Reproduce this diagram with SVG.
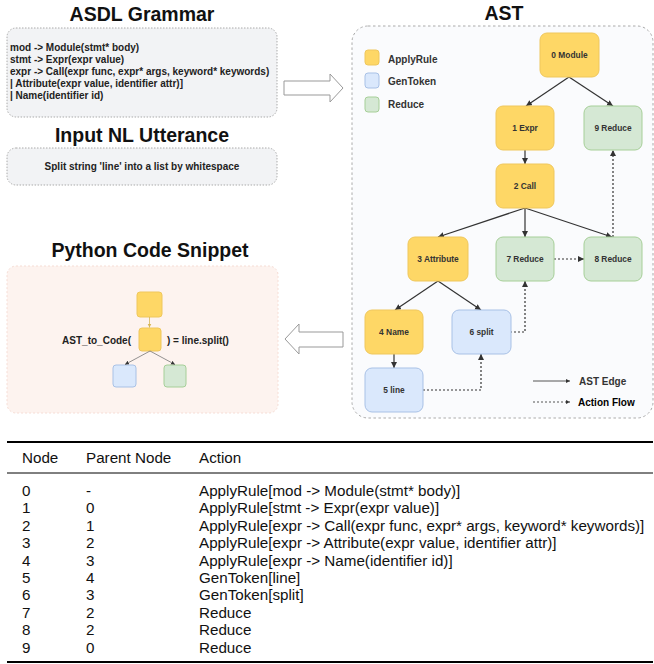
<svg xmlns="http://www.w3.org/2000/svg" width="654" height="664" viewBox="0 0 654 664">
<style>
.title{font-family:"Liberation Sans",Arial,sans-serif;font-weight:bold;font-size:19.5px;fill:#111;text-anchor:middle}
.b10{font-family:"Liberation Sans",Arial,sans-serif;font-weight:bold;font-size:10px;fill:#222}
.nl{font-family:"Liberation Sans",Arial,sans-serif;font-weight:bold;font-size:8.4px;fill:#333;text-anchor:middle}
.leg{font-family:"Liberation Sans",Arial,sans-serif;font-weight:bold;font-size:10px;fill:#333}
.tb{font-family:"Liberation Sans",Arial,sans-serif;font-size:15.2px;fill:#111}
.y{fill:#fed766;stroke:#efc75c;stroke-width:1}
.bl{fill:#dae8fc;stroke:#a8c1e6;stroke-width:1}
.g{fill:#d5e8d4;stroke:#a6cf98;stroke-width:1}
.e{fill:none;stroke:#333;stroke-width:1.2}
.d{fill:none;stroke:#333;stroke-width:1.2;stroke-dasharray:2,2}
.hollow{fill:#fff;stroke:#999;stroke-width:1;stroke-linejoin:round}
</style>
<defs>
<marker id="ah" markerWidth="8" markerHeight="8" refX="6" refY="3" orient="auto" markerUnits="userSpaceOnUse">
<path d="M0,0 L6,3 L0,6 Z" fill="#333"/>
</marker>
<marker id="ahs" markerWidth="6" markerHeight="6" refX="4" refY="2" orient="auto" markerUnits="userSpaceOnUse">
<path d="M0,0 L4,2 L0,4 Z" fill="#333"/>
</marker>
<marker id="ahy" markerWidth="6" markerHeight="6" refX="4" refY="2" orient="auto" markerUnits="userSpaceOnUse">
<path d="M0,0 L4,2 L0,4 Z" fill="#d6b656"/>
</marker>
</defs>
<rect width="654" height="664" fill="#fff"/>

<g id="grammar">
<text class="title" x="142" y="21">ASDL Grammar</text>
<rect x="7" y="28" width="270" height="89" rx="9" fill="#f2f3f5" stroke="#aaa" stroke-width="1" stroke-dasharray="1.5,1.5"/>
<text class="b10" x="10" y="51">mod -&gt; Module(stmt* body)</text>
<text class="b10" x="10" y="63">stmt -&gt; Expr(expr value)</text>
<text class="b10" x="10" y="75">expr -&gt; Call(expr func, expr* args, keyword* keywords)</text>
<text class="b10" x="10" y="87">| Attribute(expr value, identifier attr)]</text>
<text class="b10" x="10" y="99">| Name(identifier id)</text>
</g>

<g id="utterance">
<text class="title" x="142" y="142">Input NL Utterance</text>
<rect x="7" y="148" width="270" height="37" rx="9" fill="#f2f3f5" stroke="#aaa" stroke-width="1" stroke-dasharray="1.5,1.5"/>
<text class="b10" x="142" y="170" text-anchor="middle">Split string 'line' into a list by whitespace</text>
</g>

<g id="arrow-right">
<path class="hollow" d="M284,81 L330,81 L330,74 L343,88 L330,102 L330,95 L284,95 Z"/>
</g>

<g id="arrow-left">
<path class="hollow" d="M343,332 L299,332 L299,324 L285,339 L299,354 L299,347 L343,347 Z"/>
</g>

<g id="code">
<text class="title" x="150" y="257">Python Code Snippet</text>
<rect x="7" y="266" width="271" height="147" rx="9" fill="#fdf3ef" stroke="#f6ddd5" stroke-width="1" stroke-dasharray="2,2"/>
<rect class="y" x="137" y="292" width="25" height="25" rx="3"/>
<rect class="y" x="139" y="328" width="22" height="23" rx="3"/>
<rect class="bl" x="113" y="365" width="23" height="22" rx="3"/>
<rect class="g" x="164" y="365" width="22" height="22" rx="3"/>
<path d="M149.5,317 V327.5" fill="none" stroke="#d6b656" stroke-width="0.8" marker-end="url(#ahy)"/>
<path d="M150,351 L125,364.5" fill="none" stroke="#777" stroke-width="0.8" marker-end="url(#ahs)"/>
<path d="M150,351 L175,364.5" fill="none" stroke="#777" stroke-width="0.8" marker-end="url(#ahs)"/>
<text class="b10" x="131" y="343.5" text-anchor="end">AST_to_Code(</text>
<text class="b10" x="167" y="343.5">) = line.split()</text>
</g>

<g id="ast">
<text class="title" x="504" y="20">AST</text>
<rect x="352" y="26" width="301" height="392" rx="16" fill="#fafbfd" stroke="#aaa" stroke-width="1" stroke-dasharray="2.5,2.5"/>
</g>

<g id="legend">
<rect class="y" x="365" y="50" width="14" height="15" rx="3"/>
<rect class="bl" x="365" y="73" width="14" height="15" rx="3"/>
<rect class="g" x="365" y="97" width="14" height="15" rx="3"/>
<text class="leg" x="388" y="62.5">ApplyRule</text>
<text class="leg" x="388" y="85">GenToken</text>
<text class="leg" x="388" y="108">Reduce</text>
<path d="M533,381 H570" fill="none" stroke="#555" stroke-width="1" marker-end="url(#ahs)"/>
<path d="M533,402 H570" fill="none" stroke="#555" stroke-width="1" stroke-dasharray="2,2" marker-end="url(#ahs)"/>
<text class="leg" x="579" y="384.5">AST Edge</text>
<text class="leg" x="578" y="405.5" style="fill:#000">Action Flow</text>
</g>

<g id="connectors">
<path class="e" d="M569,77 L526,106" marker-end="url(#ah)"/>
<path class="e" d="M569,77 L613,106" marker-end="url(#ah)"/>
<path class="e" d="M525,150 V164" marker-end="url(#ah)"/>
<path class="e" d="M525,208 L438,237" marker-end="url(#ah)"/>
<path class="e" d="M525,208 V237" marker-end="url(#ah)"/>
<path class="e" d="M525,208 L612,237" marker-end="url(#ah)"/>
<path class="e" d="M438,281 L395,310" marker-end="url(#ah)"/>
<path class="e" d="M438,281 L481,310" marker-end="url(#ah)"/>
<path class="e" d="M394,354 V368" marker-end="url(#ah)"/>
<path class="d" d="M423,390 H481 V354" marker-end="url(#ah)"/>
<path class="d" d="M510,332 H525 V281" marker-end="url(#ah)"/>
<path class="d" d="M554,259 H584" marker-end="url(#ah)"/>
<path class="d" d="M613,237 V150" marker-end="url(#ah)"/>
</g>

<g id="n0"><rect class="y" x="540" y="33" width="59" height="44" rx="7"/><text class="nl" x="569.5" y="58">0 Module</text></g>
<g id="n1"><rect class="y" x="496" y="106" width="58" height="44" rx="7"/><text class="nl" x="525" y="131">1 Expr</text></g>
<g id="n9"><rect class="g" x="584" y="106" width="58" height="44" rx="7"/><text class="nl" x="613" y="131">9 Reduce</text></g>
<g id="n2"><rect class="y" x="496" y="164" width="58" height="44" rx="7"/><text class="nl" x="525" y="189">2 Call</text></g>
<g id="n3"><rect class="y" x="408" y="237" width="60" height="44" rx="7"/><text class="nl" x="438" y="262">3 Attribute</text></g>
<g id="n7"><rect class="g" x="496" y="237" width="58" height="44" rx="7"/><text class="nl" x="525" y="262">7 Reduce</text></g>
<g id="n8"><rect class="g" x="584" y="237" width="58" height="44" rx="7"/><text class="nl" x="613" y="262">8 Reduce</text></g>
<g id="n4"><rect class="y" x="365" y="310" width="58" height="44" rx="7"/><text class="nl" x="394" y="335">4 Name</text></g>
<g id="n6"><rect class="bl" x="452" y="310" width="59" height="44" rx="7"/><text class="nl" x="481.5" y="335">6 split</text></g>
<g id="n5"><rect class="bl" x="365" y="368" width="58" height="44" rx="7"/><text class="nl" x="394" y="393">5 line</text></g>

<g id="table">
<path d="M7,442 H653" stroke="#000" stroke-width="2"/>
<path d="M7,473 H653" stroke="#000" stroke-width="1"/>
<path d="M7,662 H653" stroke="#000" stroke-width="2"/>
<text class="tb" x="22" y="463">Node</text>
<text class="tb" x="86" y="463">Parent Node</text>
<text class="tb" x="199" y="463">Action</text>
<g class="tb">
<text x="22" y="496">0</text><text x="86" y="496">-</text><text x="199" y="496">ApplyRule[mod -&gt; Module(stmt* body)]</text>
<text x="22" y="513.4">1</text><text x="86" y="513.4">0</text><text x="199" y="513.4">ApplyRule[stmt -&gt; Expr(expr value)]</text>
<text x="22" y="530.8">2</text><text x="86" y="530.8">1</text><text x="199" y="530.8">ApplyRule[expr -&gt; Call(expr func, expr* args, keyword* keywords)]</text>
<text x="22" y="548.2">3</text><text x="86" y="548.2">2</text><text x="199" y="548.2">ApplyRule[expr -&gt; Attribute(expr value, identifier attr)]</text>
<text x="22" y="565.6">4</text><text x="86" y="565.6">3</text><text x="199" y="565.6">ApplyRule[expr -&gt; Name(identifier id)]</text>
<text x="22" y="583">5</text><text x="86" y="583">4</text><text x="199" y="583">GenToken[line]</text>
<text x="22" y="600.4">6</text><text x="86" y="600.4">3</text><text x="199" y="600.4">GenToken[split]</text>
<text x="22" y="617.8">7</text><text x="86" y="617.8">2</text><text x="199" y="617.8">Reduce</text>
<text x="22" y="635.2">8</text><text x="86" y="635.2">2</text><text x="199" y="635.2">Reduce</text>
<text x="22" y="652.6">9</text><text x="86" y="652.6">0</text><text x="199" y="652.6">Reduce</text>
</g>
</g>
</svg>
